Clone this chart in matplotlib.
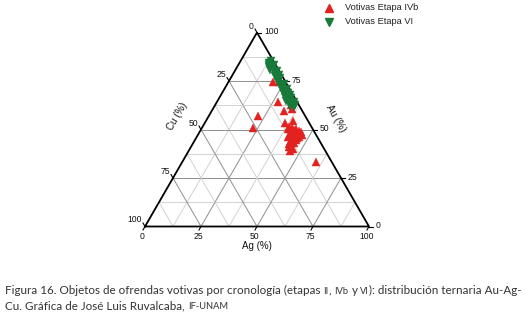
import numpy as np
import matplotlib
matplotlib.use("Agg")
import matplotlib.pyplot as plt

# Votivas Etapa IVb (Au %, Cu %), Ag = rest
ivb_au = [74.7, 74.7, 64.4, 62.6, 60.8, 59.5, 57.0, 53.4, 54.4, 51.0, 33.5,
          51.3, 50.8, 50.3, 50.3, 49.2, 48.7, 47.7, 47.7, 47.2, 46.1, 46.1,
          45.1, 44.6, 43.6, 43.0, 41.0, 40.0, 38.9,
          49.8, 48.2, 46.8, 45.6, 44.2, 42.4, 48.9, 47.0]
ivb_cu = [5.5, 3.0, 8.4, 3.5, 4.0, 8.2, 20.9, 10.8, 6.7, 26.2, 7.0,
          10.1, 9.1, 11.1, 7.5, 6.7, 9.1, 11.0, 7.8, 9.5, 8.2, 13.1,
          11.8, 10.3, 13.5, 12.0, 15.0, 14.1, 16.0,
          8.4, 10.2, 12.2, 9.2, 12.8, 14.4, 5.8, 6.6]

# Votivas Etapa VI (Au %, Cu %)
vi_au = [85.5, 84.5, 83.5, 83.0, 82.0, 81.5, 80.5, 80.0, 79.0, 78.0, 77.5,
         76.5, 75.5, 74.5, 73.5, 72.5, 71.5, 71.0, 70.0, 69.0, 68.5, 68.0,
         67.0, 66.5, 66.0, 65.0, 64.5, 64.0, 63.0, 62.5, 62.0, 61.5]
vi_cu = [1.2, 2.2, 3.0, 1.0, 3.5, 2.0, 3.8, 1.2, 2.6, 1.2, 3.0,
         1.5, 2.4, 3.2, 1.3, 2.2, 3.4, 1.2, 2.6, 1.6, 3.5, 1.2,
         2.6, 4.2, 1.6, 3.0, 4.8, 1.6, 3.4, 2.0, 4.4, 2.6]

ticks = [0, 25, 50, 75, 100]
tick_labels = ["0", "25", "50", "75", "100"]
grid_vals = [12.5, 25, 37.5, 50, 62.5, 75, 87.5]

RED = "#e3211f"
GREEN = "#17793a"
H = np.sqrt(3) / 2

W, HH = 526, 314
fig = plt.figure(figsize=(W / 100, HH / 100), dpi=100)
ax = fig.add_axes([0, 0, 1, 1])
PX = 100 / 224.0           # data units per pixel
ax.set_xlim(-145 * PX, (W - 145) * PX)
ax.set_ylim(-(HH - 226.5) * PX, 226.5 * PX)
ax.axis("off")


def tern(ag, au, cu):
    ag, au, cu = np.asarray(ag, float), np.asarray(au, float), np.asarray(cu, float)
    s = ag + au + cu
    return 100 * (ag + au / 2) / s, 100 * au * H / s


# grid
for v in grid_vals:
    col = "#8f8f8f" if v % 25 == 0 else "#d2d2d2"
    lines = [((100 - v, v, 0), (0, v, 100 - v)),      # Au = v
             ((v, 0, 100 - v), (v, 100 - v, 0)),      # Ag = v
             ((100 - v, 0, v), (0, 100 - v, v))]      # Cu = v
    for a, b in lines:
        x, y = tern([a[0], b[0]], [a[1], b[1]], [a[2], b[2]])
        ax.plot(x, y, color=col, lw=0.7, zorder=1)

# frame
fx, fy = tern([0, 100, 0, 0], [0, 0, 100, 0], [100, 0, 0, 100])
ax.plot(fx, fy, color="black", lw=1.3, zorder=3, solid_joinstyle="miter")

tl = 4 * PX
tick_kw = dict(fontsize=6.2, family="Liberation Sans", color="#111111")
for v, lab in zip(ticks, tick_labels):
    # Ag (bottom)
    x, y = tern(v, 0, 100 - v)
    ax.plot([x, x - 0.5 * tl], [y, y - H * tl], color="black", lw=0.8)
    ax.text(x - 2.5 * PX, y - 10 * PX, lab, ha="center", va="center", **tick_kw)
    # Au (right)
    x, y = tern(100 - v, v, 0)
    ax.plot([x, x + tl], [y, y], color="black", lw=0.8)
    ax.text(x + 7 * PX, y + 1 * PX, lab, ha="left", va="center", **tick_kw)
    # Cu (left)
    x, y = tern(0, 100 - v, v)
    ax.plot([x, x - 0.5 * tl], [y, y + H * tl], color="black", lw=0.8)
    ax.text(x - 3 * PX, y + 6.5 * PX, lab, ha="right", va="center", **tick_kw)

lab_kw = dict(fontsize=7, family="Liberation Sans", color="#111111",
              ha="center", va="center")
ax.text(112 * PX, -19.5 * PX, "Ag (%)", **lab_kw)
ax.text((177 - 145) * PX, (226.5 - 116) * PX, "Cu (%)", rotation=60, **lab_kw)
ax.text((336 - 145) * PX, (226.5 - 118) * PX, "Au (%)", rotation=-60, **lab_kw)

# data
ivb_ag = 100 - np.array(ivb_au) - np.array(ivb_cu)
vi_ag = 100 - np.array(vi_au) - np.array(vi_cu)
x, y = tern(ivb_ag, ivb_au, ivb_cu)
ax.plot(x, y, "^", color=RED, ms=5.8, mec=RED, mew=0.3, ls="none", zorder=4)
x, y = tern(vi_ag, vi_au, vi_cu)
ax.plot(x, y, "v", color=GREEN, ms=5.8, mec=GREEN, mew=0.3, ls="none", zorder=5)

# legend (manual, pixel placement)
for i, (mk, col, txt) in enumerate([("^", RED, "Votivas Etapa IVb"),
                                     ("v", GREEN, "Votivas Etapa VI")]):
    py = 7.5 + 14 * i
    ax.plot([(328.5 - 145) * PX], [(226.5 - py) * PX], mk, color=col, ms=5.5,
            clip_on=False)
    ax.text((345 - 145) * PX, (226.5 - py) * PX, txt, fontsize=6.7,
            family="Liberation Sans", color="#222222", va="center", ha="left")

# caption with small caps pieces
renderer = fig.canvas.get_renderer()
cap_font = "Lato"
line1 = [("Figura 16. Objetos de ofrendas votivas por cronología (etapas", 0, 0),
         ("II", 1, 1), (",", 0, 0), ("IVb", 1, 1), ("y", 0, 1), ("VI", 1, 1),
         ("): distribución ternaria Au-Ag-", 0, 0)]
line2 = [("Cu. Gráfica de José Luis Ruvalcaba,", 0, 0), ("IF-UNAM", 1, 1)]


def draw_line(pieces, x0, y0, size, draw=True):
    sp = fig.text(0, 0, "a a", fontsize=size, family=cap_font)
    sp2 = fig.text(0, 0, "aa", fontsize=size, family=cap_font)
    gap = sp.get_window_extent(renderer).width - sp2.get_window_extent(renderer).width
    sp.remove()
    sp2.remove()
    x = x0
    made = []
    for txt, small, g in pieces:
        x += gap * g
        t = fig.text(x, y0, txt, fontsize=size * (0.8 if small else 1.0),
                     family=cap_font, color="#333333", transform=None,
                     va="baseline", ha="left")
        made.append(t)
        x += t.get_window_extent(renderer).width
    if not draw:
        for t in made:
            t.remove()
    return x - x0


w10 = draw_line(line1, 5, 20, 10, draw=False)
size = 10 * 515 / w10
draw_line(line1, 5, 20, size)
draw_line(line2, 5, 5, size)

fig.savefig("out.png", dpi=100)
